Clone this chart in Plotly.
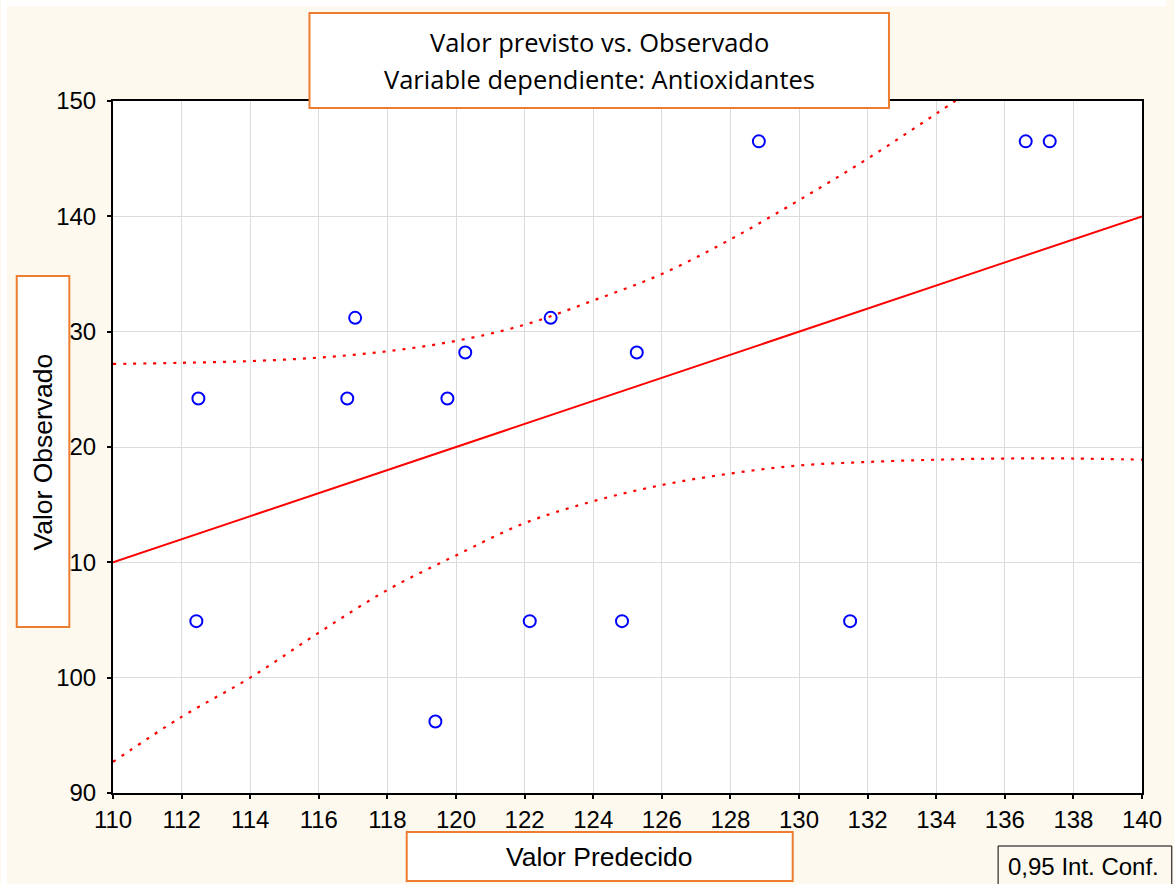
import plotly.graph_objects as go

# ---- data ----
pred_x = [112.49, 112.43, 117.06, 116.83, 120.27, 119.75, 119.40, 122.76,
          122.15, 125.27, 124.84, 128.83, 131.49, 136.61, 137.31]
obs_y = [124.2, 104.9, 131.2, 124.2, 128.2, 124.2, 96.2, 131.2,
         104.9, 128.2, 104.9, 146.5, 104.9, 146.5, 146.5]

fit_x = [110, 140]
fit_y = [110, 140]

upper_x = [110, 112, 114, 116, 118, 120, 122, 124, 126, 128, 130, 132, 134, 136]
upper_y = [127.2, 127.3, 127.45, 127.75, 128.3, 129.2, 130.6, 132.7, 135.0,
           138.0, 141.4, 145.0, 148.9, 152.9]

lower_x = [110, 112, 114, 116, 118, 120, 122, 124, 126, 128, 130, 132, 134,
           136, 138, 140]
lower_y = [92.7, 96.6, 100.0, 103.9, 107.6, 110.6, 113.4, 115.3, 116.7, 117.7,
           118.4, 118.7, 118.9, 119.0, 119.0, 118.9]

x_ticks = list(range(110, 141, 2))
y_ticks = list(range(90, 151, 10))

title_l1 = "Valor previsto vs. Observado"
title_l2 = "Variable dependiente: Antioxidantes"
x_title = "Valor Predecido"
y_title = "Valor Observado"
legend_text = "0,95 Int. Conf."

# ---- layout geometry (pixels) ----
W, H = 1174, 884
L, R, T, B = 113, 1150, 101, 793
CREAM = "#FDF9EF"
ORANGE = "#ED7D31"


def px(x):
    return (x - L) / (R - L)


def py(y):
    return (B - y) / (B - T)


fig = go.Figure()

fig.add_trace(go.Scatter(x=lower_x, y=lower_y, mode="lines",
                         line=dict(color="#FF0000", width=2.2, dash="3px,7px",
                                   shape="spline"),
                         hoverinfo="skip"))
fig.add_trace(go.Scatter(x=upper_x, y=upper_y, mode="lines",
                         line=dict(color="#FF0000", width=2.2, dash="3px,7px",
                                   shape="spline"),
                         hoverinfo="skip"))
fig.add_trace(go.Scatter(x=fit_x, y=fit_y, mode="lines",
                         line=dict(color="#FF0000", width=2),
                         hoverinfo="skip"))
fig.add_trace(go.Scatter(x=pred_x, y=obs_y, mode="markers",
                         marker=dict(symbol="circle-open", size=12,
                                     color="#0000FF",
                                     line=dict(width=2, color="#0000FF")),
                         hoverinfo="skip"))

axis_common = dict(
    showline=True, linecolor="black", linewidth=2, mirror=True,
    showgrid=True, gridcolor="#DCDCDC", gridwidth=1,
    ticks="outside", ticklen=4, tickwidth=2, tickcolor="black",
    zeroline=False,
    tickfont=dict(family="Liberation Sans, Arial, sans-serif", size=24,
                  color="black"),
)

fig.update_xaxes(range=[110, 140], tickvals=x_ticks, **axis_common)
fig.update_yaxes(range=[90, 150], tickvals=y_ticks, ticklabelstandoff=6,
                 **axis_common)

shapes = [
    # white strips around the cream background
    dict(type="rect", xref="paper", yref="paper", layer="below",
         x0=px(0), x1=px(W), y0=py(0), y1=py(6), fillcolor="white",
         line=dict(width=0)),
    dict(type="rect", xref="paper", yref="paper", layer="below",
         x0=px(0), x1=px(6), y0=py(0), y1=py(H), fillcolor="white",
         line=dict(width=0)),
    # title box
    dict(type="rect", xref="paper", yref="paper", layer="above",
         x0=px(311), x1=px(895), y0=py(108), y1=py(13), fillcolor="white",
         line=dict(color=ORANGE, width=2)),
    # y label box
    dict(type="rect", xref="paper", yref="paper", layer="above",
         x0=px(16), x1=px(69), y0=py(627), y1=py(276), fillcolor="white",
         line=dict(color=ORANGE, width=2)),
    # x label box
    dict(type="rect", xref="paper", yref="paper", layer="above",
         x0=px(409), x1=px(798), y0=py(881), y1=py(832), fillcolor="white",
         line=dict(color=ORANGE, width=2)),
    # legend box
    dict(type="rect", xref="paper", yref="paper", layer="above",
         x0=px(1005), x1=px(1180), y0=py(890), y1=py(846), fillcolor=CREAM,
         line=dict(color="black", width=1)),
]

title_font = dict(family="Open Sans, sans-serif", size=25.5, color="black")
arial = dict(family="Liberation Sans, Arial, sans-serif", size=26.5, color="black")

annotations = [
    dict(text=title_l1, x=px(603), y=py(42), xref="paper", yref="paper",
         showarrow=False, xanchor="center", yanchor="middle", font=title_font),
    dict(text=title_l2, x=px(603), y=py(79), xref="paper", yref="paper",
         showarrow=False, xanchor="center", yanchor="middle", font=title_font),
    dict(text=x_title, x=px(603), y=py(857), xref="paper", yref="paper",
         showarrow=False, xanchor="center", yanchor="middle", font=arial),
    dict(text=y_title, x=px(42), y=py(452), xref="paper", yref="paper",
         showarrow=False, xanchor="center", yanchor="middle", textangle=-90,
         font=arial),
    dict(text=legend_text, x=px(1013), y=py(866), xref="paper", yref="paper",
         showarrow=False, xanchor="left", yanchor="middle",
         font=dict(family="Liberation Sans, Arial, sans-serif", size=24,
                   color="black")),
]

fig.update_layout(
    width=W, height=H,
    margin=dict(l=L, r=W - R, t=T, b=H - B, pad=0),
    paper_bgcolor=CREAM, plot_bgcolor="white",
    showlegend=False,
    shapes=shapes, annotations=annotations,
)

fig.write_html(
    "out.html",
    config={"displayModeBar": False},
    post_script="document.body.style.margin='0';"
                "document.body.style.overflow='hidden';",
)
